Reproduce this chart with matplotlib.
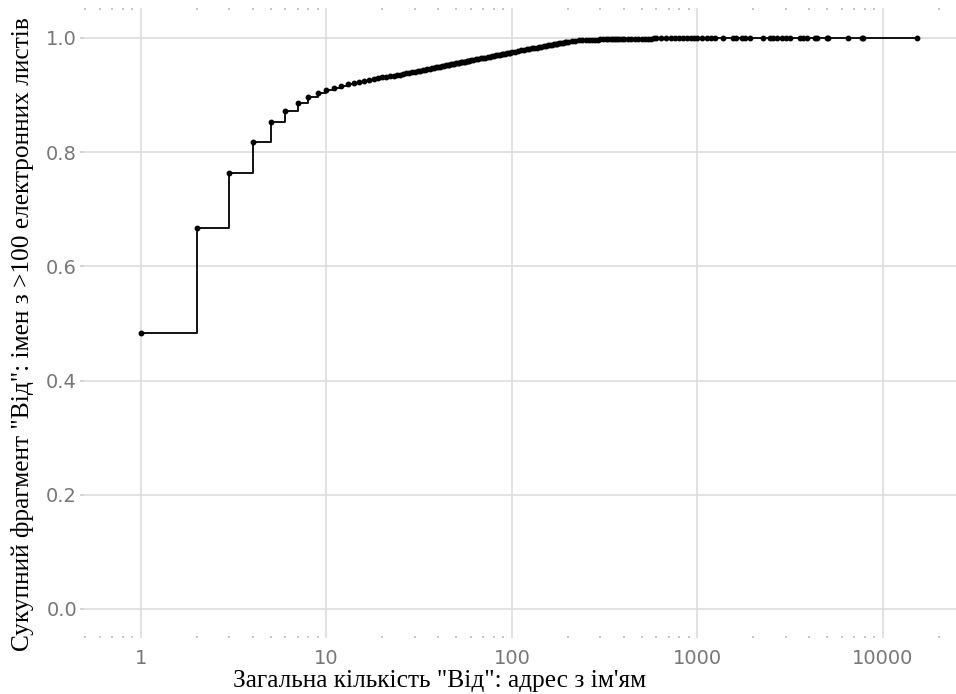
import numpy as np
import matplotlib.pyplot as plt
from matplotlib.ticker import LogLocator, FixedLocator, NullFormatter

# кількість адрес "Від" на ім'я
counts = list(range(1, 61)) + \
    [62, 64, 66, 68, 70, 72, 74, 76, 78, 80, 82, 84, 86, 88, 90, 92, 94, 96, 98, 100] + \
    [104, 108, 112, 116, 120, 124, 128, 132, 136, 140, 144, 148, 152, 156, 160,
     164, 168, 172, 176, 180, 184, 188, 192, 196, 200] + \
    [210, 220, 230, 240, 250, 260, 270, 280, 290, 300, 310, 320, 330, 340, 350,
     360, 370, 380, 390, 400] + \
    [420, 440, 460, 480, 500, 520, 540, 560, 580, 600] + \
    [640, 680, 720, 760, 800, 840, 880, 920, 960, 1000] + \
    [1060, 1120, 1180, 1250, 1372, 1550, 1620, 1730, 1800, 1920,
     2265, 2450, 2566, 2700, 2845, 3000, 3155, 3570, 3700, 3880,
     4300, 4395, 5000, 5075, 6500, 7700, 7830, 15300]

# сукупна частка
frac = [0.484, 0.667, 0.764, 0.818, 0.852, 0.872, 0.886, 0.896, 0.904, 0.909,
        0.913, 0.916, 0.919, 0.921, 0.923, 0.925, 0.927, 0.929, 0.930, 0.931,
        0.932, 0.933, 0.934, 0.935, 0.936, 0.937, 0.938, 0.939, 0.940, 0.941,
        0.9419, 0.9428, 0.9437, 0.9445, 0.9453, 0.9461, 0.9469, 0.9477, 0.9484, 0.9491,
        0.9498, 0.9505, 0.9512, 0.9518, 0.9524, 0.9531, 0.9537, 0.9543, 0.9549, 0.9554,
        0.9560, 0.9565, 0.9571, 0.9576, 0.9581, 0.9586, 0.9591, 0.9596, 0.9601, 0.9606,
        0.9615, 0.9624, 0.9633, 0.9641, 0.9649, 0.9657, 0.9665, 0.9672, 0.9680, 0.9687,
        0.9694, 0.9701, 0.9707, 0.9714, 0.9720, 0.9726, 0.9732, 0.9738, 0.9744, 0.9750,
        0.9761, 0.9771, 0.9781, 0.9790, 0.9799, 0.9808, 0.9816, 0.9825, 0.9833, 0.9841,
        0.9848, 0.9856, 0.9863, 0.9870, 0.9877, 0.9883, 0.9890, 0.9896, 0.9902, 0.9908,
        0.9914, 0.9920, 0.9926, 0.9931, 0.9937,
        0.9945, 0.9952, 0.9957, 0.9961, 0.9964, 0.9967, 0.9969, 0.9971, 0.9973, 0.9975,
        0.9976, 0.9977, 0.9978, 0.9979, 0.9980, 0.9981, 0.9982, 0.9983, 0.9983, 0.9984,
        0.9985, 0.9986, 0.9987, 0.9988, 0.9989, 0.9989, 0.9990, 0.9990, 0.9991, 0.9991,
        0.9992, 0.9992, 0.9993, 0.9993, 0.9994, 0.9994, 0.9995, 0.9995, 0.9995, 0.9996,
        0.9996, 0.9996, 0.9997, 0.9997, 0.9997, 0.9998, 0.9998, 0.9998, 0.9998, 0.9998,
        0.9999, 0.9999, 0.9999, 0.9999, 0.9999, 0.9999, 0.9999, 0.9999, 0.9999, 0.9999,
        0.9999, 0.9999, 0.9999, 0.9999, 1.0, 1.0, 1.0, 1.0]

x_ticks = [1, 10, 100, 1000, 10000]
x_tick_labels = ['1', '10', '100', '1000', '10000']
y_ticks = [0.0, 0.2, 0.4, 0.6, 0.8, 1.0]

W, H = 956, 694
fig = plt.figure(figsize=(W / 100, H / 100), dpi=100)
ax = fig.add_axes([84 / W, 56 / H, 872 / W, 630 / H])

ax.plot(counts, frac, drawstyle='steps-post', color='#111111', lw=1.4,
        marker='o', ms=3.2, mfc='black', mec='black', zorder=3)

ax.set_xscale('log')
ax.set_xlim(0.493, 24770)
ax.set_ylim(-0.051, 1.0525)

ax.xaxis.set_major_locator(FixedLocator(x_ticks))
ax.set_xticklabels(x_tick_labels)
ax.xaxis.set_minor_locator(LogLocator(base=10, subs=np.arange(2, 10)))
ax.xaxis.set_minor_formatter(NullFormatter())
ax.set_yticks(y_ticks)
ax.set_yticklabels(['%.1f' % v for v in y_ticks])

ax.grid(True, which='major', color='#dddddd', lw=1.2)
ax.set_axisbelow(True)
for s in ax.spines.values():
    s.set_visible(False)

ax.tick_params(axis='x', which='major', length=0, labelsize=14,
               labelcolor='#777777', pad=8)
ax.tick_params(axis='x', which='minor', top=True, bottom=True, length=1.5,
               width=1.2, color='#bbbbbb', direction='in')
ax.tick_params(axis='y', which='major', length=3, width=1.2, color='#cccccc',
               labelsize=14, labelcolor='#777777', pad=2)

fig.text(440 / W, 1 - 681 / H, 'Загальна кількість "Від": адрес з ім\'ям',
         ha='center', va='center', family='Liberation Serif', fontsize=18.3,
         color='black')
fig.text(23 / W, 1 - 334 / H,
         'Сукупний фрагмент "Від": імен з >100 електронних листів',
         ha='center', va='center', rotation=90, family='Liberation Serif',
         fontsize=18.3, color='black')

fig.savefig('out.png', dpi=100)
